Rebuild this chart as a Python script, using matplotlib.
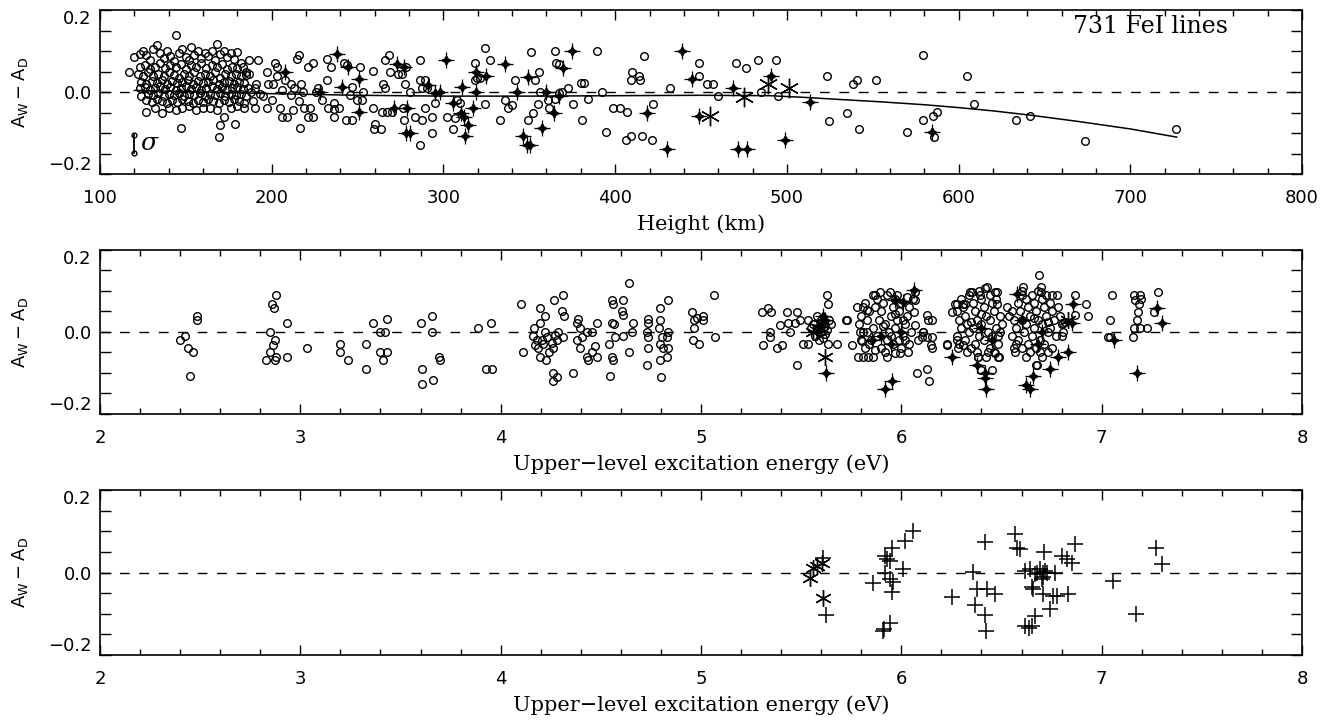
import numpy as np
import matplotlib
matplotlib.use("Agg")
import matplotlib.pyplot as plt
from matplotlib.ticker import MultipleLocator

plt.rcParams['mathtext.fontset'] = 'dejavusans'

# ---------------- data ----------------
# top panel: height (km), A_W - A_D
height_circles = [
    # dense block 115-185 km
    (120, 0.085), (123, 0.092), (125, 0.1), (127, 0.09), (129, 0.078), (131, 0.105), (133, 0.115),
    (135, 0.095), (137, 0.082), (139, 0.1), (141, 0.088), (143, 0.075), (144, 0.138), (146, 0.095),
    (148, 0.105), (150, 0.085), (152, 0.078), (153, 0.11), (155, 0.09), (157, 0.1), (159, 0.082),
    (161, 0.095), (163, 0.088), (165, 0.1), (167, 0.078), (168, 0.117), (170, 0.092), (172, 0.1),
    (174, 0.085), (176, 0.095), (178, 0.08), (180, 0.098), (182, 0.07),
    (123, 0.06), (126, 0.065), (129, 0.055), (132, 0.062), (135, 0.07), (138, 0.058), (141, 0.065),
    (144, 0.06), (147, 0.068), (150, 0.055), (153, 0.065), (156, 0.06), (159, 0.07), (162, 0.058),
    (165, 0.065), (168, 0.06), (171, 0.068), (174, 0.055), (177, 0.062), (180, 0.058), (183, 0.06),
    (185, 0.05),
    (122, 0.045), (125, 0.04), (128, 0.048), (131, 0.038), (134, 0.045), (137, 0.04), (140, 0.048),
    (143, 0.042), (146, 0.035), (149, 0.045), (152, 0.04), (155, 0.048), (158, 0.038), (161, 0.045),
    (164, 0.04), (167, 0.048), (170, 0.035), (173, 0.045), (176, 0.04), (179, 0.045), (182, 0.038),
    (185, 0.042),
    (124, 0.025), (127, 0.02), (130, 0.028), (133, 0.022), (136, 0.03), (139, 0.02), (142, 0.028),
    (145, 0.022), (148, 0.025), (151, 0.03), (154, 0.02), (157, 0.028), (160, 0.022), (163, 0.025),
    (166, 0.03), (169, 0.02), (172, 0.025), (175, 0.028), (178, 0.02), (181, 0.025), (184, 0.022),
    (123, 0.01), (126, 0.012), (129, 0.005), (132, 0.01), (135, 0.015), (138, 0.008), (141, 0.012),
    (144, 0.005), (147, 0.01), (150, 0.015), (153, 0.008), (156, 0.012), (159, 0.005), (162, 0.01),
    (165, 0.015), (168, 0.008), (171, 0.012), (174, 0.005), (177, 0.01), (180, 0.012), (183, 0.008),
    (186, 0.01),
    (124, -0.01), (128, -0.005), (131, -0.008), (134, -0.002), (137, -0.01), (140, -0.005),
    (143, -0.008), (146, -0.003), (149, -0.01), (152, -0.005), (155, -0.008), (158, -0.002),
    (161, -0.01), (164, -0.005), (167, -0.008), (170, -0.003), (173, -0.01), (176, -0.005),
    (179, -0.008), (182, -0.004), (185, -0.01),
    (127, -0.02), (130, -0.025), (133, -0.018), (136, -0.022), (139, -0.028), (142, -0.02),
    (145, -0.025), (148, -0.018), (151, -0.022), (154, -0.028), (157, -0.02), (160, -0.025),
    (163, -0.018), (166, -0.022), (169, -0.028), (172, -0.02), (175, -0.025), (178, -0.018),
    (181, -0.022), (184, -0.028),
    (127, -0.048), (132, -0.04), (136, -0.05), (140, -0.038), (144, -0.045), (148, -0.04),
    (152, -0.035), (156, -0.045), (160, -0.04), (164, -0.038), (168, -0.045), (172, -0.06),
    (176, -0.04), (180, -0.035), (184, -0.04),
    (117, 0.05), (147, -0.088), (169, -0.11), (170, -0.08), (178.6, -0.077),
    # 185-235 km
    (187, 0.079), (192, 0.079), (187, 0.045), (191, 0.02), (190, 0.01), (189, -0.023), (190, -0.04),
    (197, 0.05), (198, 0.02), (195, -0.01), (197, -0.04), (202, 0.07), (203, 0.06), (203, 0.04),
    (201, 0.02), (206, 0.005), (205, -0.04), (206, -0.06), (209, -0.06), (211, 0.02), (211, -0.007),
    (212.6, -0.044), (214.5, 0.08), (216, 0.09), (216.5, -0.088), (217, 0.02), (216, -0.023),
    (219, -0.04), (222, -0.04), (224, -0.06), (221, -0.06), (221, 0.06), (224, 0.07), (232, 0.08),
    (188, 0.0), (193, -0.005), (200, -0.02), (208, 0.03), (213, 0.01), (218, 0.0), (226, 0.0),
    (229, -0.02), (227, 0.01),
    # 230-365 km
    (234.5, 0.06), (232, 0.03), (232.5, -0.04), (236, -0.042), (236, -0.06), (239, -0.04),
    (236, -0.028), (242, 0.07), (244, 0.065), (243, -0.068), (246.5, -0.068), (247, 0.013),
    (245.5, -0.007), (249.5, -0.02), (253, 0.0), (251.4, 0.06), (252.4, -0.02), (259, 0.052),
    (258.8, -0.04), (260, -0.078), (263.5, -0.09), (259.5, -0.09), (264.6, 0.02), (266, 0.009),
    (266, 0.079), (268, 0.09), (269, 0.05), (264, -0.048), (267, -0.048), (270, -0.048),
    (273.6, 0.044), (275.6, 0.044), (277.6, 0.02), (278, 0.06), (276.6, -0.04), (277, -0.068),
    (280.5, 0.0), (283.4, -0.06), (287.3, -0.068), (286.3, 0.079), (286.3, 0.03), (289.2, 0.03),
    (287.3, 0.01), (290.2, 0.01), (289.2, -0.04), (293.1, -0.06), (293.1, -0.1), (295, -0.028),
    (286.3, -0.128), (302, -0.06), (305.7, -0.09), (306.7, -0.064), (309.6, -0.027),
    (307.7, -0.02), (318.4, 0.07), (319.3, 0.033), (321.3, 0.033), (318.4, 0.029), (324.2, 0.108),
    (327.1, 0.079), (324.2, -0.03), (332.9, -0.068), (335.8, -0.02), (337.8, -0.04),
    (339.7, -0.032), (341.6, 0.03), (349.4, -0.068), (352.3, -0.05), (350.8, 0.098), (353.3, 0.03),
    (355.8, 0.05), (355.2, -0.03), (361, -0.02), (361.6, -0.04), (356.2, 0.0),
    # 365-560 km
    (365, 0.099), (365.5, 0.07), (367, 0.068), (365, -0.018), (367.5, -0.002), (369, 0.0),
    (372.7, 0.01), (375.6, -0.03), (380, 0.023), (382, 0.023), (380.5, -0.068), (384.4, -0.018),
    (389.6, 0.099), (392.5, 0.0), (394.5, -0.098), (399, -0.04), (403, -0.04), (406.7, -0.048),
    (406.3, -0.118), (409, -0.108), (409.6, 0.05), (409, 0.03), (414, 0.04), (414.5, 0.03),
    (416.8, 0.089), (415.4, -0.108), (421.3, -0.118), (422, -0.03), (432, 0.01), (449, 0.07),
    (449, 0.04), (453.3, 0.019), (456.8, 0.019), (460, -0.01), (470.4, 0.07), (476.2, 0.059),
    (483.4, 0.077), (484.7, 0.0), (493.7, 0.077), (495, -0.01), (523.2, 0.039), (524.7, -0.07),
    (535, -0.05), (538.7, 0.019), (541, 0.029), (542, -0.09), (551.9, 0.029),
    # 560-730 km
    (569.8, -0.098), (579, 0.09), (579.5, -0.069), (585, -0.058), (587.3, -0.048),
    (585.7, -0.109), (604.8, 0.04), (609, -0.029), (633.5, -0.069), (641.6, -0.058),
    (673.7, -0.119), (726.7, -0.089),
]

height_stars = [
    (208, 0.05), (228, 0.0), (238, 0.092), (244.6, 0.06), (251, 0.031), (251, -0.048),
    (240.7, 0.013), (273, 0.069), (277, 0.06), (271, -0.04), (279, -0.04), (278, -0.1),
    (280.5, -0.1), (291, 0.017), (295, -0.003), (298, 0.0), (301.5, 0.079), (305.7, -0.027),
    (310.6, 0.013), (310, -0.052), (312, -0.06), (314.5, -0.08), (312.5, -0.108), (317, -0.04),
    (319, 0.05), (325, 0.04), (319, 0.0), (336, 0.069), (342.6, 0.0), (349.4, 0.037),
    (357.5, -0.087), (346.5, -0.108), (348.5, -0.128), (350.5, -0.128), (360, 0.0), (375, 0.099),
    (369.4, 0.059), (364.6, -0.05), (367, -0.01), (438.7, 0.099), (444.5, 0.031), (418.3, -0.05),
    (430, -0.139), (449, -0.058), (468.4, 0.01), (471.7, -0.139), (477, -0.139), (499, -0.118),
    (491, 0.039), (513.5, -0.025), (584.4, -0.098),
]

height_asterisks = [(455, -0.058), (475, -0.011), (489, 0.019), (501, 0.01)]

# fitted curve in the top panel
fit_height = [120, 160, 200, 250, 300, 350, 400, 450, 490, 510, 530, 555, 580, 600, 620, 641,
              670, 700, 727]
fit_value = [0.004, 0.0, -0.004, -0.008, -0.01, -0.01, -0.009, -0.008, -0.009, -0.013, -0.018,
             -0.024, -0.031, -0.038, -0.046, -0.056, -0.072, -0.09, -0.11]

# error bar ("sigma") in the top panel
sigma_x = 119.5
sigma_lo, sigma_hi = -0.149, -0.104

# middle panel: upper-level excitation energy (eV), A_W - A_D
energy_circles = [
    (2.399, -0.019), (2.424, -0.01), (2.44, -0.04), (2.462, -0.05), (2.449, -0.108), (2.483, 0.039),
    (2.483, 0.029), (2.857, 0.069), (2.878, 0.09), (2.868, 0.059), (2.849, 0.0), (2.873, -0.019),
    (2.862, -0.031), (2.846, -0.05), (2.88, -0.06), (2.873, -0.069), (2.829, -0.069),
    (2.932, 0.021), (2.935, -0.06), (3.035, -0.04), (3.2, -0.029), (3.2, -0.05), (3.239, -0.069),
    (3.328, -0.029), (3.328, -0.09), (3.365, 0.021), (3.397, 0.0), (3.422, 0.0), (3.4, -0.05),
    (3.43, -0.05), (3.414, -0.069), (3.431, 0.031), (3.6, 0.021), (3.605, -0.09), (3.605, -0.128),
    (3.658, 0.039), (3.658, 0.0), (3.66, -0.118), (3.69, -0.06), (3.695, -0.069),
    (3.888, 0.009), (3.95, 0.021), (3.927, -0.09), (3.955, -0.09), (4.101, 0.069), (4.113, -0.05),
    (4.196, 0.059), (4.221, 0.039), (4.196, 0.021), (4.166, 0.009), (4.16, -0.01), (4.18, -0.019),
    (4.205, -0.019), (4.229, -0.011), (4.221, 0.001), (4.188, -0.04), (4.196, -0.06),
    (4.226, -0.069), (4.243, -0.05), (4.263, -0.04), (4.254, -0.027), (4.279, -0.019),
    (4.271, -0.007), (4.288, 0.001), (4.213, -0.029), (4.171, -0.031), (4.266, 0.079),
    (4.313, 0.09), (4.304, 0.051), (4.316, 0.039), (4.259, -0.1), (4.279, -0.11), (4.259, -0.12),
    (4.363, -0.1), (4.313, -0.011), (4.379, 0.021), (4.388, 0.031), (4.396, 0.009), (4.429, 0.001),
    (4.454, 0.001), (4.404, -0.011), (4.379, -0.019), (4.396, -0.04), (4.429, -0.06),
    (4.454, -0.05), (4.479, -0.06), (4.437, -0.069), (4.471, -0.034), (4.479, 0.021),
    (4.542, -0.029), (4.554, -0.06), (4.562, -0.069), (4.546, -0.108), (4.554, 0.021),
    (4.566, 0.019), (4.562, 0.069), (4.609, 0.077), (4.555, 0.079), (4.604, 0.052), (4.609, 0.041),
    (4.571, -0.011), (4.612, -0.01), (4.659, 0.021), (4.654, 0.001), (4.642, -0.05), (4.642, 0.119),
    (4.737, 0.031), (4.737, 0.021), (4.729, 0.001), (4.737, -0.011), (4.737, -0.04), (4.732, -0.08),
    (4.795, 0.059), (4.795, 0.029), (4.792, 0.009), (4.804, -0.011), (4.795, -0.029),
    (4.812, -0.04), (4.828, -0.011), (4.837, 0.001), (4.834, -0.04), (4.828, -0.06),
    (4.795, -0.069), (4.799, -0.11), (4.837, 0.077), (4.953, 0.049), (4.967, 0.029),
    (4.978, 0.033), (5.011, 0.039), (5.011, 0.029), (4.967, 0.009), (4.958, -0.019),
    (4.992, -0.029), (5.065, 0.09), (5.07, -0.011), (5.303, 0.049), (5.336, 0.059), (5.348, 0.049),
    (5.344, 0.001), (5.344, -0.011), (5.308, -0.031), (5.378, -0.04), (5.403, -0.031),
    (5.394, 0.017), (5.428, 0.049), (5.436, 0.021), (5.444, 0.001), (5.469, 0.021), (5.477, 0.049),
    (5.494, 0.029), (5.481, -0.08), (5.511, -0.029), (5.536, -0.029), (5.536, 0.029),
    (5.627, 0.09), (5.636, 0.069), (5.636, -0.029), (5.68, -0.029), (5.724, 0.029),
    # cluster near 5.6 eV
    (5.56, 0.02), (5.58, 0.01), (5.6, 0.0), (5.62, 0.015), (5.57, -0.01), (5.59, -0.02),
    (5.61, -0.015), (5.63, 0.005), (5.64, 0.03), (5.6, 0.03), (5.58, 0.04), (5.62, -0.005),
    (5.65, 0.02), (5.55, 0.01),
    # cluster 5.75-6.15 eV
    (5.727, 0.029), (5.752, -0.031), (5.794, 0.001), (5.802, -0.023), (5.785, -0.06),
    (5.81, -0.06), (5.835, -0.06), (5.86, -0.06), (5.81, 0.061), (5.826, 0.053), (5.868, 0.09),
    (5.893, 0.098), (5.943, 0.098), (5.926, -0.06), (5.968, -0.052), (5.993, -0.052),
    (6.035, -0.05), (6.068, 0.077), (6.068, 0.098), (6.063, 0.049), (6.068, 0.017), (6.126, 0.041),
    (6.151, 0.029), (6.151, -0.011), (6.146, -0.031), (6.11, 0.0), (6.126, -0.011),
    (6.08, -0.1), (6.126, -0.09), (6.14, -0.12), (6.226, -0.031), (6.06, 0.081),
    (6.085, -0.02), (6.102, -0.011), (6.11, 0.001), (6.135, 0.029), (6.152, -0.04),
    (5.78, 0.06), (5.8, 0.04), (5.82, 0.07), (5.79, 0.02), (5.81, 0.0), (5.83, 0.03), (5.84, 0.05),
    (5.85, -0.02), (5.86, 0.01), (5.87, 0.06), (5.88, 0.08), (5.82, -0.04), (5.84, -0.03),
    (5.88, -0.01), (5.89, 0.03), (5.9, 0.05), (5.91, 0.07), (5.92, 0.02), (5.93, -0.02), (5.94, 0.0),
    (5.95, 0.04), (5.96, 0.06), (5.97, 0.08), (5.9, -0.04), (5.92, -0.05), (5.96, -0.03),
    (5.97, 0.01), (5.98, 0.03), (5.99, 0.05), (6.0, 0.07), (6.01, -0.01), (6.02, 0.02), (6.03, 0.04),
    (6.04, 0.06), (6.0, -0.04), (6.02, -0.02), (6.05, 0.0), (5.86, 0.09), (5.93, 0.09), (5.98, 0.09),
    (6.03, 0.085), (5.8, -0.02), (5.83, 0.0), (5.87, -0.045), (5.95, -0.01), (5.99, -0.02),
    (6.04, -0.03), (5.91, 0.015), (5.97, 0.045), (6.01, 0.03),
    # cluster 6.25-6.5 eV
    (6.268, 0.069), (6.309, 0.069), (6.351, 0.098), (6.392, 0.09), (6.426, 0.11), (6.476, 0.098),
    (6.276, -0.019), (6.284, -0.04), (6.31, -0.031), (6.384, -0.06), (6.4, -0.092), (6.45, -0.092),
    (6.484, -0.06), (6.492, 0.001), (6.252, 0.049), (6.277, 0.069), (6.318, 0.069), (6.343, 0.098),
    (6.418, 0.108), (6.468, 0.098), (6.476, 0.069), (6.468, -0.052), (6.485, -0.06),
    (6.385, -0.06), (6.227, -0.029),
    (6.28, 0.05), (6.29, 0.03), (6.3, 0.01), (6.28, -0.01), (6.31, 0.06), (6.32, 0.04), (6.33, 0.02),
    (6.34, 0.0), (6.32, -0.02), (6.35, -0.04), (6.36, 0.07), (6.37, 0.05), (6.38, 0.03), (6.36, 0.01),
    (6.39, -0.01), (6.37, -0.03), (6.4, 0.08), (6.41, 0.06), (6.42, 0.04), (6.4, 0.02), (6.43, 0.0),
    (6.41, -0.02), (6.44, -0.04), (6.45, 0.07), (6.46, 0.05), (6.44, 0.03), (6.47, 0.01),
    (6.45, -0.01), (6.48, -0.03), (6.49, 0.04), (6.5, 0.02), (6.46, -0.05), (6.42, -0.06),
    (6.3, 0.08), (6.34, 0.09), (6.39, 0.1), (6.44, 0.09), (6.47, 0.08), (6.33, -0.05), (6.29, -0.03),
    (6.38, -0.05), (6.43, -0.05), (6.35, 0.025), (6.4, 0.045), (6.48, -0.01),
    # cluster 6.55-6.95 eV
    (6.526, 0.061), (6.535, 0.039), (6.56, -0.04), (6.568, -0.05), (6.606, 0.11), (6.603, 0.1),
    (6.689, 0.138), (6.696, 0.11), (6.696, 0.098), (6.751, 0.09), (6.776, 0.09), (6.867, 0.09),
    (6.922, 0.069), (6.934, 0.039), (6.676, -0.08), (6.817, 0.025), (6.809, 0.001), (6.867, 0.041),
    (6.806, 0.021), (6.673, -0.08),
    (6.55, 0.05), (6.56, 0.03), (6.57, 0.01), (6.55, -0.01), (6.58, 0.07), (6.59, 0.05), (6.6, 0.03),
    (6.58, -0.02), (6.61, 0.0), (6.6, -0.04), (6.62, 0.08), (6.63, 0.06), (6.64, 0.04), (6.62, 0.02),
    (6.65, -0.01), (6.63, -0.03), (6.66, 0.07), (6.67, 0.05), (6.68, 0.03), (6.66, 0.01),
    (6.69, -0.02), (6.67, -0.04), (6.7, 0.08), (6.71, 0.06), (6.72, 0.04), (6.7, 0.02), (6.73, 0.0),
    (6.71, -0.03), (6.74, 0.07), (6.75, 0.05), (6.76, 0.03), (6.74, 0.01), (6.77, -0.01),
    (6.75, -0.04), (6.78, 0.06), (6.79, 0.04), (6.8, 0.02), (6.64, -0.05), (6.69, -0.05),
    (6.73, -0.05), (6.6, 0.09), (6.65, 0.09), (6.72, 0.09), (6.68, 0.1), (6.62, -0.06), (6.7, -0.06),
    (6.66, 0.035), (6.73, 0.025), (6.57, -0.03), (6.8, -0.01),
    # beyond 7 eV
    (7.05, 0.09), (7.039, 0.029), (7.03, -0.011), (7.043, -0.012), (7.159, 0.09), (7.189, 0.09),
    (7.167, 0.077), (7.184, 0.069), (7.179, 0.049), (7.176, 0.029), (7.159, 0.009), (7.189, 0.009),
    (7.225, 0.009), (7.156, -0.011), (7.195, 0.08), (7.279, 0.098), (7.259, 0.049),
]

energy_stars = [
    (5.619, 0.029), (5.6, 0.015), (5.58, 0.0), (5.61, 0.04), (5.624, -0.1), (5.852, -0.02),
    (5.919, -0.139), (5.952, -0.12), (5.969, 0.077), (6.007, 0.073), (6.064, 0.102), (5.95, -0.03),
    (5.9, -0.01), (6.0, 0.0), (6.252, -0.06), (6.377, -0.08), (6.418, -0.1), (6.418, -0.112),
    (6.423, -0.14), (6.4, 0.01), (6.45, -0.02), (6.576, 0.092), (6.6, 0.03), (6.62, -0.13),
    (6.64, -0.14), (6.655, -0.108), (6.68, -0.03), (6.7, 0.0), (6.743, -0.09), (6.784, -0.06),
    (6.834, -0.05), (6.856, 0.069), (6.85, 0.021), (7.059, -0.019), (7.175, -0.1),
    (7.275, 0.059), (7.3, 0.021),
]

energy_asterisks = [(5.56, 0.0), (5.59, 0.01), (5.619, -0.06), (5.6, 0.02), (6.834, 0.029)]

# bottom panel: plus markers and asterisks
plus_energy = [
    (5.61, 0.035), (5.624, -0.102), (5.86, -0.026), (5.91, -0.143), (5.92, 0.039),
    (5.914, -0.137), (5.944, -0.123), (5.952, -0.048), (5.957, -0.024), (5.944, -0.016),
    (5.919, 0.0), (5.927, 0.032), (5.944, 0.028), (5.952, 0.06), (6.01, 0.008), (6.019, 0.077),
    (6.06, 0.1), (6.252, -0.06), (6.36, 0.002), (6.377, -0.04), (6.368, -0.079), (6.426, -0.04),
    (6.468, -0.052), (6.418, -0.103), (6.423, -0.141), (6.418, 0.073), (6.568, 0.093),
    (6.576, 0.06), (6.593, 0.056), (6.618, 0.004), (6.643, 0.008), (6.668, -0.004), (6.676, 0.0),
    (6.693, 0.008), (6.709, 0.0), (6.718, 0.004), (6.709, -0.012), (6.701, -0.016), (6.726, 0.0),
    (6.768, 0.0), (6.651, -0.034), (6.659, -0.04), (6.709, -0.052), (6.759, -0.056),
    (6.776, -0.056), (6.834, -0.052), (6.743, -0.089), (6.618, -0.129), (6.639, -0.135),
    (6.651, -0.129), (6.668, -0.105), (6.713, 0.05), (6.801, 0.04), (6.826, 0.032),
    (6.851, 0.024), (6.867, 0.069), (7.055, -0.02), (7.172, -0.1), (7.272, 0.06), (7.3, 0.02),
]
asterisk_energy = [(5.544, -0.014), (5.56, 0.01), (5.578, 0.015), (5.603, 0.023), (5.61, -0.062)]

height_ticks = [100, 200, 300, 400, 500, 600, 700, 800]
energy_ticks = [2, 3, 4, 5, 6, 7, 8]
y_ticks = [-0.2, 0.0, 0.2]
y_ticklabels = ['\u22120.2', '0.0', '0.2']

SERIF = 'DejaVu Serif'
SANS = 'DejaVu Sans'


def xy(pairs):
    arr = np.array(pairs, dtype=float)
    return arr[:, 0], arr[:, 1]


def style_axes(ax, xlim, xticks, xminor, xlabel):
    ax.set_xlim(*xlim)
    ax.set_ylim(-0.2, 0.2)
    ax.set_xticks(xticks)
    ax.set_xticklabels([str(t) for t in xticks], family=SANS, fontsize=13)
    ax.xaxis.set_minor_locator(MultipleLocator(xminor))
    ax.set_yticks(y_ticks)
    ax.set_yticklabels(y_ticklabels, family=SANS, fontsize=13)
    ax.yaxis.set_minor_locator(MultipleLocator(0.05))
    ax.tick_params(axis='x', which='major', direction='in', top=True, length=7, width=1, pad=11)
    ax.tick_params(axis='x', which='minor', direction='in', top=True, length=4, width=1)
    ax.tick_params(axis='y', which='both', direction='in', right=True, length=8, width=1, pad=6)
    for s in ax.spines.values():
        s.set_linewidth(1.2)
    labs = ax.get_yticklabels()
    labs[0].set_va('bottom')
    labs[2].set_va('top')
    ax.set_xlabel(xlabel, family=SERIF, fontsize=15, labelpad=5)
    ax.set_ylabel(r'$\mathsf{A_W - A_D}$', fontsize=13)
    ax.yaxis.set_label_coords(-0.058, 0.5)
    ax.axhline(0, color='k', lw=1, ls=(0, (7, 7)), zorder=1)


def draw_circles(ax, pairs):
    x, y = xy(pairs)
    ax.plot(x, y, ls='none', marker='o', ms=5.5, mfc='none', mec='k', mew=1.0, zorder=3)


def draw_stars(ax, pairs):
    x, y = xy(pairs)
    ax.plot(x, y, ls='none', marker='+', ms=11, mew=0.9, color='k', zorder=4)
    ax.plot(x, y, ls='none', marker=(4, 1, 0), ms=6.5, color='k', zorder=4)


def draw_asterisks(ax, pairs, size=12):
    x, y = xy(pairs)
    ax.plot(x, y, ls='none', marker=(6, 2, 0), ms=size, mew=1.0, color='k', zorder=4)


if __name__ == "__main__":
    fig = plt.figure(figsize=(13.32, 7.2), dpi=100)
    ax1 = fig.add_axes([0.0751, 0.7583, 0.9024, 0.2278])
    ax2 = fig.add_axes([0.0751, 0.4250, 0.9024, 0.2278])
    ax3 = fig.add_axes([0.0751, 0.0903, 0.9024, 0.2290])

    # top panel
    style_axes(ax1, (100, 800), height_ticks, 20, 'Height (km)')
    draw_circles(ax1, height_circles)
    draw_stars(ax1, height_stars)
    draw_asterisks(ax1, height_asterisks, size=14)
    ax1.plot(fit_height, fit_value, color='k', lw=1.1, zorder=2)
    ax1.plot([sigma_x, sigma_x], [sigma_lo, sigma_hi], color='k', lw=1.3,
             marker='o', ms=3.5, mfc='none', mew=1.0)
    ax1.text(sigma_x + 4, (sigma_lo + sigma_hi) / 2, '\u03c3', family=SERIF, style='italic',
             fontsize=18, ha='left', va='center')
    ax1.text(0.938, 0.9, '731 FeI lines', transform=ax1.transAxes, family=SERIF,
             fontsize=17, ha='right', va='center')

    # middle panel
    style_axes(ax2, (2, 8), energy_ticks, 0.2, 'Upper\u2212level excitation energy (eV)')
    draw_circles(ax2, energy_circles)
    draw_stars(ax2, energy_stars)
    draw_asterisks(ax2, energy_asterisks)

    # bottom panel
    style_axes(ax3, (2, 8), energy_ticks, 0.2, 'Upper\u2212level excitation energy (eV)')
    px, py = xy(plus_energy)
    ax3.plot(px, py, ls='none', marker='+', ms=11, mew=1.1, color='k', zorder=3)
    draw_asterisks(ax3, asterisk_energy)

    fig.savefig('out.png', dpi=100)
